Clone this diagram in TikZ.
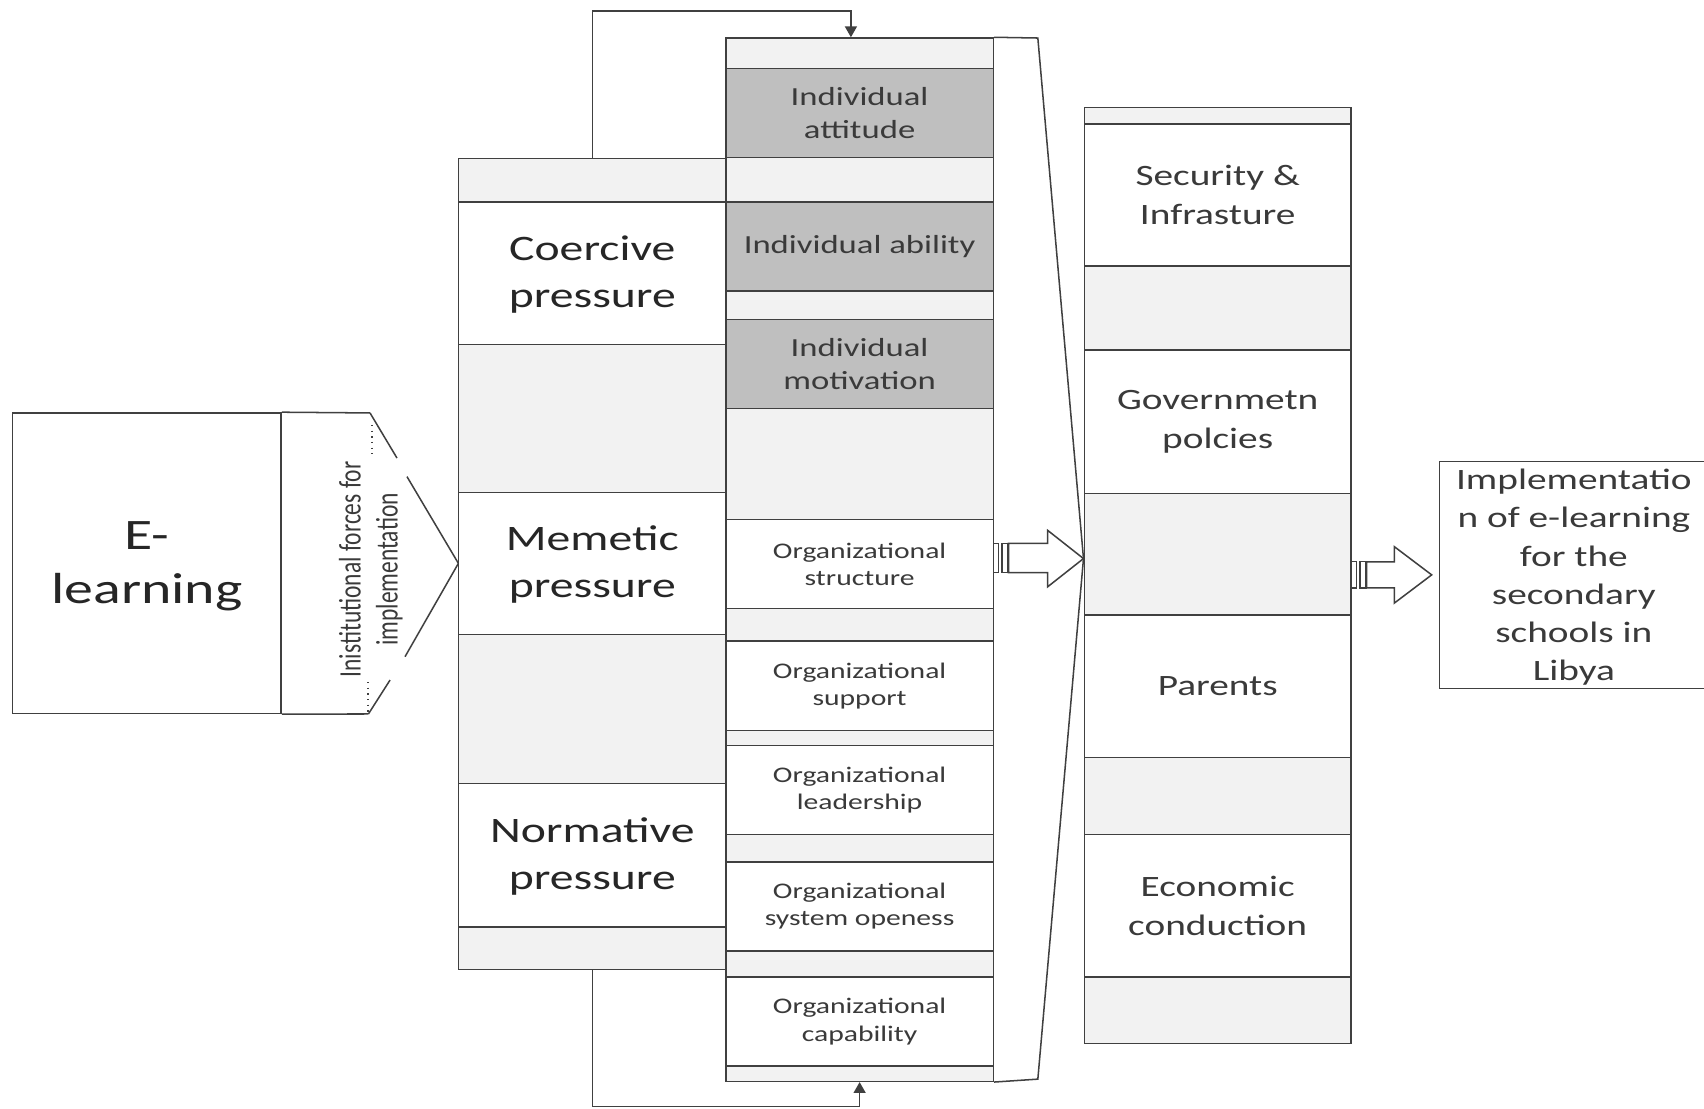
\documentclass[tikz,border=0pt]{standalone}
\usepackage{fontspec}
\setmainfont{Carlito}[FakeStretch=1.33]
\newfontfamily\rotfont{Carlito}
\usetikzlibrary{fit,arrows.meta}
\definecolor{lg}{HTML}{F2F2F2}
\definecolor{dg}{HTML}{BFBFBF}
\definecolor{ln}{HTML}{404040}
\definecolor{tx}{HTML}{262626}
\definecolor{tx2}{HTML}{3A3A3A}
% cell: style, corner, corner, name, text style, text
\newcommand\tcell[6]{%
  \node[#1, fit={#2 #3}] (#4) {};
  \node[#5] (#4t) at (#4.center) {#6};}
\begin{document}
\begin{tikzpicture}[x=0.5pt,y=-0.5pt,
  cell/.style={draw=ln, line width=0.7pt, inner sep=0pt},
  light/.style={cell, fill=lg},
  whitecell/.style={cell, fill=white},
  darkcell/.style={cell, fill=dg},
  label base/.style={inner sep=0pt, align=center, text=tx2},
  bigfont/.style={label base, text=tx, font=\fontsize{20}{25}\selectfont, yshift=-1.5pt},
  presfont/.style={label base, text=tx, font=\fontsize{16.5}{21.5}\selectfont, yshift=-0.5pt},
  indfont/.style={label base, font=\fontsize{12}{15.5}\selectfont},
  orgfont/.style={label base, font=\fontsize{10.25}{12.5}\selectfont},
  rightfont/.style={label base, font=\fontsize{13.6}{18}\selectfont},
  outfont/.style={label base, font=\fontsize{13.6}{17.5}\selectfont, yshift=-1pt},
  conn/.style={draw=ln, line width=0.7pt, -{Triangle[width=5.5pt,length=5pt]}},
  plainline/.style={draw=ln, line width=0.7pt},
  blockarrow/.style={draw=ln, line width=0.7pt, fill=white, line join=miter},
  stripe/.style={draw=ln, line width=0.6pt, fill=white}
]
\useasboundingbox (0,0) rectangle (1568,1020);

% ---------- E-learning block ----------
\tcell{whitecell}{(11.7,380)}{(258.6,656.4)}{el}{bigfont}{E-\\learning}
\coordinate (insttop) at (340.5,380);
\coordinate (instbot) at (339,657);
\draw[plainline] (el.north east) -- (insttop);
\draw[plainline] (el.south east) -- (instbot);
\draw[plainline] (insttop) -- (365.3,421.5);
\draw[plainline] (374.5,438.6) -- (421.8,518.4) -- (372.7,604.3);
\draw[plainline] (358.9,625.8) -- (instbot);
\draw[draw=ln, dotted, line width=0.6pt] (342.3,391) -- (342.3,419);
\draw[draw=ln, dotted, line width=0.6pt] (338.6,627.6) -- (338.6,656);
\node[rotate=90, inner sep=0pt, text=tx2, font=\rotfont\fontsize{10.8}{12.8}\selectfont] (inst) at (342,524)
  {\scalebox{1}[1.33]{\begin{tabular}{@{}c@{}}Inistitutional forces for\\implementation\end{tabular}}};

% ---------- Left column (pressures) ----------
\node[light, fit={(422,146) (668,186)}] (l0) {};
\tcell{whitecell}{(422,186)}{(668,317)}{l1}{presfont}{Coercive\\pressure}
\node[light, fit={(422,317) (668,453)}] (l2) {};
\tcell{whitecell}{(422,453)}{(668,584)}{l3}{presfont}{Memetic\\pressure}
\node[light, fit={(422,584) (668,721)}] (l4) {};
\tcell{whitecell}{(422,721)}{(668,853)}{l5}{presfont}{Normative\\pressure}
\node[light, fit={(422,853) (668,892)}] (l6) {};

% ---------- Middle column ----------
\node[light, fit={(668,35) (914,63)}] (m0) {};
\tcell{darkcell}{(668,63)}{(914,145)}{m1}{indfont}{Individual\\attitude}
\node[light, fit={(668,145) (914,186)}] (m2) {};
\tcell{darkcell}{(668,186)}{(914,268)}{m3}{indfont}{Individual ability}
\node[light, fit={(668,268) (914,294)}] (m4) {};
\tcell{darkcell}{(668,294)}{(914,376)}{m5}{indfont}{Individual\\motivation}
\node[light, fit={(668,376) (914,478)}] (m6) {};
\tcell{whitecell}{(668,478)}{(914,560)}{m7}{orgfont}{Organizational\\structure}
\node[light, fit={(668,560) (914,590)}] (m8) {};
\tcell{whitecell}{(668,590)}{(914,672)}{m9}{orgfont}{Organizational\\support}
\node[light, fit={(668,672) (914,686)}] (m10) {};
\tcell{whitecell}{(668,686)}{(914,768)}{m11}{orgfont}{Organizational\\leadership}
\node[light, fit={(668,768) (914,793)}] (m12) {};
\tcell{whitecell}{(668,793)}{(914,875)}{m13}{orgfont}{Organizational\\system openess}
\node[light, fit={(668,875) (914,899)}] (m14) {};
\tcell{whitecell}{(668,899)}{(914,981)}{m15}{orgfont}{Organizational\\capability}
\node[light, fit={(668,981) (914,995)}] (m16) {};

% ---------- Right column ----------
\node[light, fit={(998,99) (1243,114)}] (r0) {};
\tcell{whitecell}{(998,114)}{(1243,245)}{r1}{rightfont}{Security \&\\Infrasture}
\node[light, fit={(998,245) (1243,322)}] (r2) {};
\tcell{whitecell}{(998,322)}{(1243,454)}{r3}{rightfont}{Governmetn\\polcies}
\node[light, fit={(998,454) (1243,566)}] (r4) {};
\tcell{whitecell}{(998,566)}{(1243,697)}{r5}{rightfont}{Parents}
\node[light, fit={(998,697) (1243,768)}] (r6) {};
\tcell{whitecell}{(998,768)}{(1243,899)}{r7}{rightfont}{Economic\\conduction}
\node[light, fit={(998,899) (1243,960)}] (r8) {};

% ---------- Output box ----------
\tcell{whitecell}{(1324.5,424.8)}{(1572,633.4)}{out}{outfont}
  {Implementatio\\n of e-learning\\for the\\secondary\\schools in\\Libya}

% ---------- Feedback loops ----------
\coordinate (tc) at (783,10);
\coordinate (bc) at (545,1018);
\draw[conn] (l0.north) |- (tc) -- (tc |- m0.north);
\draw[conn] (l6.south) -- (bc) -| (m16.south);

% ---------- Converging trapezoid ----------
\coordinate (tip) at (997,514);
\draw[plainline] (m0.north east) -- (955,35) -- (tip) -- (955,993) -- (m16.south east);

% ---------- Block arrow 1 ----------
\draw[stripe] (914,500) rectangle (919,527);
\draw[stripe] (922,500) rectangle (927.5,527);
\draw[blockarrow] (928,500) -- (964,500) -- (964,488) -- (tip) -- (964,540) -- (964,527) -- (928,527) -- cycle;

% ---------- Block arrow 2 ----------
\coordinate (tip2) at (1317.4,529);
\draw[stripe] (r4.east |- 0,517) rectangle (1248.5,541);
\draw[stripe] (1251.5,517) rectangle (1257,541);
\draw[blockarrow] (1257.6,517) -- (1283,517) -- (1283,503) -- (tip2) -- (1283,555) -- (1283,541) -- (1257.6,541) -- cycle;
\end{tikzpicture}
\end{document}
